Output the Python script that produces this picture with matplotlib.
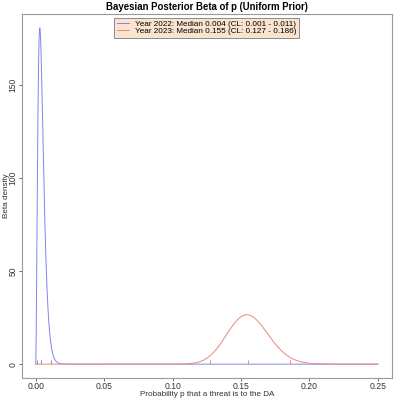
import math
import numpy as np
import matplotlib
matplotlib.use("Agg")
import matplotlib.pyplot as plt

# Posterior Beta(k + 1, n - k + 1) under a uniform prior
years = ["2022", "2023"]
alphas = [3, 90]        # threats to the DA + 1
betas = [665, 489]      # other threats + 1
medians = [0.004, 0.155]
cl_low = [0.001, 0.127]
cl_high = [0.011, 0.186]
colors = ["#8484ee", "#ee8484"]

X_MAX = 0.25


def beta_pdf(x, a, b):
    lognorm = math.lgamma(a + b) - math.lgamma(a) - math.lgamma(b)
    with np.errstate(divide="ignore"):
        logpdf = lognorm + (a - 1) * np.log(x) + (b - 1) * np.log1p(-x)
    return np.exp(logpdf)


plt.rcParams["font.family"] = ["Liberation Sans", "DejaVu Sans"]

fig = plt.figure(figsize=(4, 4), dpi=100)
ax = fig.add_axes([0.055, 0.056, 0.924, 0.908])

x = np.linspace(0, X_MAX, 2001)
curves = [beta_pdf(x, a, b) for a, b in zip(alphas, betas)]
ymax = max(c.max() for c in curves)

for yr, c, col, med, lo, hi in zip(years, curves, colors, medians, cl_low, cl_high):
    ax.plot(x, c, color=col, lw=0.7,
            label=f"Year {yr}: Median {med:.3f} (CL: {lo:.3f} - {hi:.3f})")
    ax.vlines([lo, med, hi], 0, ymax * 0.011, color=col, lw=0.7)

ax.set_xlim(-0.04 * X_MAX, 1.04 * X_MAX)
ax.set_ylim(-0.04 * ymax, 1.04 * ymax)
xt = np.arange(0, 0.26, 0.05)
ax.set_xticks(xt)
ax.set_xticklabels([f"{t:.2f}" for t in xt])
ax.set_yticks([0, 50, 100, 150])
for lab in ax.get_yticklabels():
    lab.set_rotation(90)
    lab.set_va("center")

ax.tick_params(colors="#555555", labelcolor="#333333", labelsize=6.2, length=2.2, width=0.6)
ax.tick_params(axis="x", pad=0.9)
ax.tick_params(axis="y", pad=0.8)
for s in ax.spines.values():
    s.set_color("#999999")
    s.set_linewidth(0.8)

ax.set_xlabel("Probability p that a threat is to the DA", fontsize=5.9, color="#333333")
ax.set_ylabel("Beta density", fontsize=5.9, color="#333333")
ax.xaxis.set_label_coords(0.5, -0.047)
ax.yaxis.set_label_coords(-0.042, 0.5)
ax.xaxis.label.set_va("center")
ax.yaxis.label.set_va("center")
ax.set_title("Bayesian Posterior Beta of p (Uniform Prior)", fontsize=6.9,
             fontweight="bold", pad=3)

leg = ax.legend(loc="upper center", fontsize=5.85, fancybox=False, framealpha=1,
                facecolor="#fbe4cf", edgecolor="#8a8a8a", handlelength=1.5,
                labelspacing=-0.1, borderpad=0.35, handletextpad=0.7,
                borderaxespad=0.4)
leg.get_frame().set_linewidth(0.7)

fig.savefig("out.png", dpi=100)
